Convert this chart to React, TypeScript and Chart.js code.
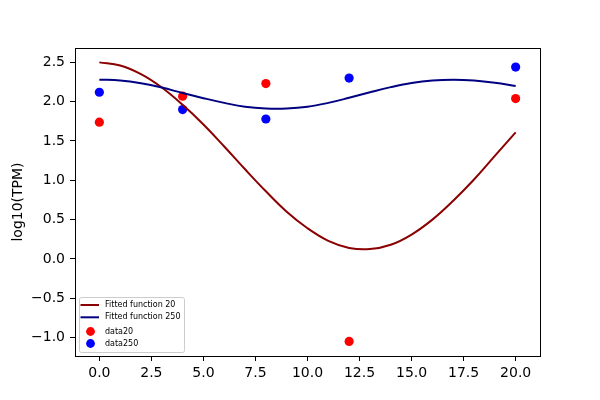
import { useEffect, useRef } from 'react';
import { Chart, registerables } from 'chart.js';

Chart.register(...registerables);

// sampled time points and measured values
const sampleDays = [0, 4, 8, 12, 20];
const data20 = [1.74, 2.07, 2.23, -1.05, 2.04];
const data250 = [2.12, 1.9, 1.78, 2.3, 2.44];

// fitted curves at each whole x
const fitDays = [0, 1, 2, 3, 4, 5, 6, 7, 8, 9, 10, 11, 12, 13, 14, 15, 16, 17, 18, 19, 20];
const fit20 = [2.5, 2.46, 2.35, 2.18, 1.96, 1.71, 1.43, 1.14, 0.86, 0.6, 0.39, 0.23, 0.14, 0.125, 0.18, 0.31, 0.5, 0.74, 1.01, 1.31, 1.61];
const fit250 = [2.28, 2.27, 2.235, 2.18, 2.11, 2.045, 1.985, 1.935, 1.912, 1.912, 1.935, 1.985, 2.05, 2.12, 2.185, 2.238, 2.27, 2.28, 2.27, 2.242, 2.2];

const xTicks = [0, 2.5, 5, 7.5, 10, 12.5, 15, 17.5, 20];
const yTicks = [-1, -0.5, 0, 0.5, 1, 1.5, 2, 2.5];

const FONT = 'DejaVu Sans';

const toPoints = (xs: number[], ys: number[]) => xs.map((x, i) => ({ x, y: ys[i] }));
const fmt = (v: number) => v.toFixed(1).replace('-', '\u2212');

// matplotlib-like frame around the axes
const framePlugin = {
  id: 'frame',
  afterDatasetsDraw(chart: any) {
    const { ctx, chartArea: a } = chart;
    ctx.save();
    ctx.strokeStyle = '#000';
    ctx.lineWidth = 1;
    ctx.strokeRect(Math.round(a.left) + 0.5, Math.round(a.top) + 0.5, Math.round(a.right - a.left), Math.round(a.bottom - a.top));
    ctx.restore();
  },
};

// small legend in the lower left corner of the axes
const legendPlugin = {
  id: 'innerLegend',
  afterDraw(chart: any) {
    const { ctx, chartArea: a } = chart;
    const w = 105;
    const h = 55;
    const x = a.left + 4;
    const y = a.bottom - 4 - h;
    ctx.save();
    ctx.fillStyle = 'rgba(255,255,255,0.8)';
    ctx.strokeStyle = '#cccccc';
    ctx.lineWidth = 1;
    ctx.beginPath();
    ctx.roundRect(x + 0.5, y + 0.5, w, h, 2);
    ctx.fill();
    ctx.stroke();

    ctx.font = `8px "${FONT}"`;
    ctx.textBaseline = 'middle';
    ctx.textAlign = 'left';
    const rows = [8, 20.3, 34.5, 46.5];
    chart.data.datasets.forEach((ds: any, i: number) => {
      const ry = y + rows[i];
      if (ds.showLine === false) {
        ctx.fillStyle = ds.backgroundColor;
        ctx.beginPath();
        ctx.arc(x + 11.5, ry, 4.4, 0, Math.PI * 2);
        ctx.fill();
      } else {
        ctx.strokeStyle = ds.borderColor;
        ctx.lineWidth = 2;
        ctx.beginPath();
        ctx.moveTo(x + 1.5, ry);
        ctx.lineTo(x + 20, ry);
        ctx.stroke();
      }
      ctx.fillStyle = '#000';
      ctx.fillText(ds.label, x + 26, ry);
    });
    ctx.restore();
  },
};

export default function App() {
  const canvasRef = useRef<HTMLCanvasElement>(null);

  useEffect(() => {
    if (!canvasRef.current) return;
    const chart = new Chart(canvasRef.current, {
      type: 'scatter',
      data: {
        datasets: [
          {
            label: 'Fitted function 20',
            data: toPoints(fitDays, fit20),
            showLine: true,
            borderColor: '#8b0000',
            backgroundColor: '#8b0000',
            borderWidth: 2,
            pointRadius: 0,
            tension: 0.4,
            order: 1,
          },
          {
            label: 'Fitted function 250',
            data: toPoints(fitDays, fit250),
            showLine: true,
            borderColor: '#000080',
            backgroundColor: '#000080',
            borderWidth: 2,
            pointRadius: 0,
            tension: 0.4,
            order: 0,
          },
          {
            label: 'data20',
            data: toPoints(sampleDays, data20),
            showLine: false,
            backgroundColor: '#ff0000',
            borderWidth: 0,
            pointRadius: 4.6,
            order: 2,
          },
          {
            label: 'data250',
            data: toPoints(sampleDays, data250),
            showLine: false,
            backgroundColor: '#0000ff',
            borderWidth: 0,
            pointRadius: 4.6,
            order: 3,
          },
        ],
      },
      options: {
        responsive: true,
        maintainAspectRatio: false,
        animation: false,
        layout: { padding: { top: 48, right: 60, left: 0, bottom: 0 } },
        plugins: {
          legend: { display: false },
          tooltip: { enabled: false },
        },
        scales: {
          x: {
            type: 'linear',
            min: -1.17,
            max: 21.17,
            afterFit: (s: any) => { s.height = 44; },
            afterBuildTicks: (s: any) => { s.ticks = xTicks.map((value) => ({ value })); },
            border: { display: false },
            grid: { drawOnChartArea: false, drawTicks: true, tickLength: 5, tickColor: '#000', lineWidth: 1 },
            ticks: {
              color: '#000',
              padding: 4,
              maxRotation: 0,
              autoSkip: false,
              font: { family: FONT, size: 14 },
              callback: (v: any) => fmt(Number(v)),
            },
          },
          y: {
            type: 'linear',
            min: -1.235,
            max: 2.683,
            afterFit: (s: any) => { s.width = 75; },
            afterBuildTicks: (s: any) => { s.ticks = yTicks.map((value) => ({ value })); },
            border: { display: false },
            grid: { drawOnChartArea: false, drawTicks: true, tickLength: 5, tickColor: '#000', lineWidth: 1 },
            title: {
              display: true,
              text: 'log10(TPM)',
              color: '#000',
              font: { family: FONT, size: 14 },
              padding: { top: 10, bottom: 0 },
            },
            ticks: {
              color: '#000',
              padding: 5,
              autoSkip: false,
              font: { family: FONT, size: 14 },
              callback: (v: any) => fmt(Number(v)),
            },
          },
        },
      },
      plugins: [framePlugin, legendPlugin],
    });
    return () => chart.destroy();
  }, []);

  return (
    <div style={{ position: 'absolute', left: 0, top: 0, width: 600, height: 400, background: '#fff' }}>
      <canvas ref={canvasRef}></canvas>
    </div>
  );
}
